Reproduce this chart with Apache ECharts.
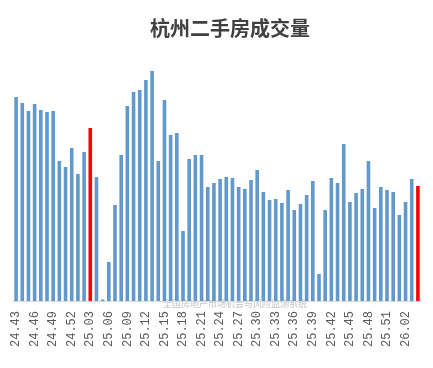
<!DOCTYPE html>
<html>
<head>
<meta charset="utf-8">
<script src="https://cdn.jsdelivr.net/npm/echarts@6/dist/echarts.min.js"></script>
<style>html,body{margin:0;padding:0;background:#fff}#c{width:433px;height:368px}</style>
</head>
<body>
<div id="c"></div>
<script>
var titleText = '杭州二手房成交量';
var watermark = '全国房地产市场机会与风险监测系统';
var categories = [
  '24.43','24.44','24.45','24.46','24.47','24.48','24.49','24.50','24.51','24.52',
  '25.01','25.02','25.03','25.04','25.05','25.06','25.07','25.08','25.09','25.10',
  '25.11','25.12','25.13','25.14','25.15','25.16','25.17','25.18','25.19','25.20',
  '25.21','25.22','25.23','25.24','25.25','25.26','25.27','25.28','25.29','25.30',
  '25.31','25.32','25.33','25.34','25.35','25.36','25.37','25.38','25.39','25.40',
  '25.41','25.42','25.43','25.44','25.45','25.46','25.47','25.48','25.49','25.50',
  '25.51','25.52','26.01','26.02','26.03','26.04'
];
var volumes = [
  2040,1980,1900,1970,1910,1890,1900,1400,1340,1530,
  1270,1490,1730,1240,15,390,960,1460,1950,2090,
  2110,2210,2300,1400,2010,1660,1680,700,1420,1460,
  1460,1140,1180,1220,1240,1230,1140,1120,1210,1310,
  1090,1010,1020,980,1110,910,970,1060,1200,270,
  910,1230,1180,1570,990,1080,1120,1400,930,1140,
  1110,1090,860,990,1220,1150
];
var highlighted = ['25.03','26.04'];

var chart = echarts.init(document.getElementById('c'), null, {renderer:'canvas'});
var data = volumes.map(function(v, i){
  var item = {value: v};
  if (highlighted.indexOf(categories[i]) >= 0) item.itemStyle = {color: '#FF0000'};
  return item;
});
chart.setOption({
  animation: false,
  backgroundColor: '#fff',
  title: {
    text: titleText, left: 145, top: 13,
    textStyle: {fontSize: 20, fontWeight: 'bold', color: '#404040', fontFamily: 'Noto Sans CJK SC'}
  },
  graphic: [{
    type: 'text', left: 163, top: 299,
    style: {text: watermark, fontSize: 9, fill: '#c4c4c4', fontFamily: 'Noto Sans CJK SC'}
  }],
  grid: {left: 13, right: 12, top: 61, bottom: 67, containLabel: false},
  xAxis: {
    type: 'category', data: categories,
    axisLine: {lineStyle: {color: '#d9d9d9', width: 1}},
    axisTick: {show: false},
    axisLabel: {
      interval: 2, rotate: 90, margin: 10, color: '#595959',
      fontSize: 12, fontFamily: 'Liberation Mono'
    }
  },
  yAxis: {type: 'value', min: 0, max: 2400, show: false, splitLine: {show: false}},
  series: [{
    type: 'bar', data: data, barWidth: 3.6,
    itemStyle: {color: '#6199CC'}
  }]
});
</script>
</body>
</html>
